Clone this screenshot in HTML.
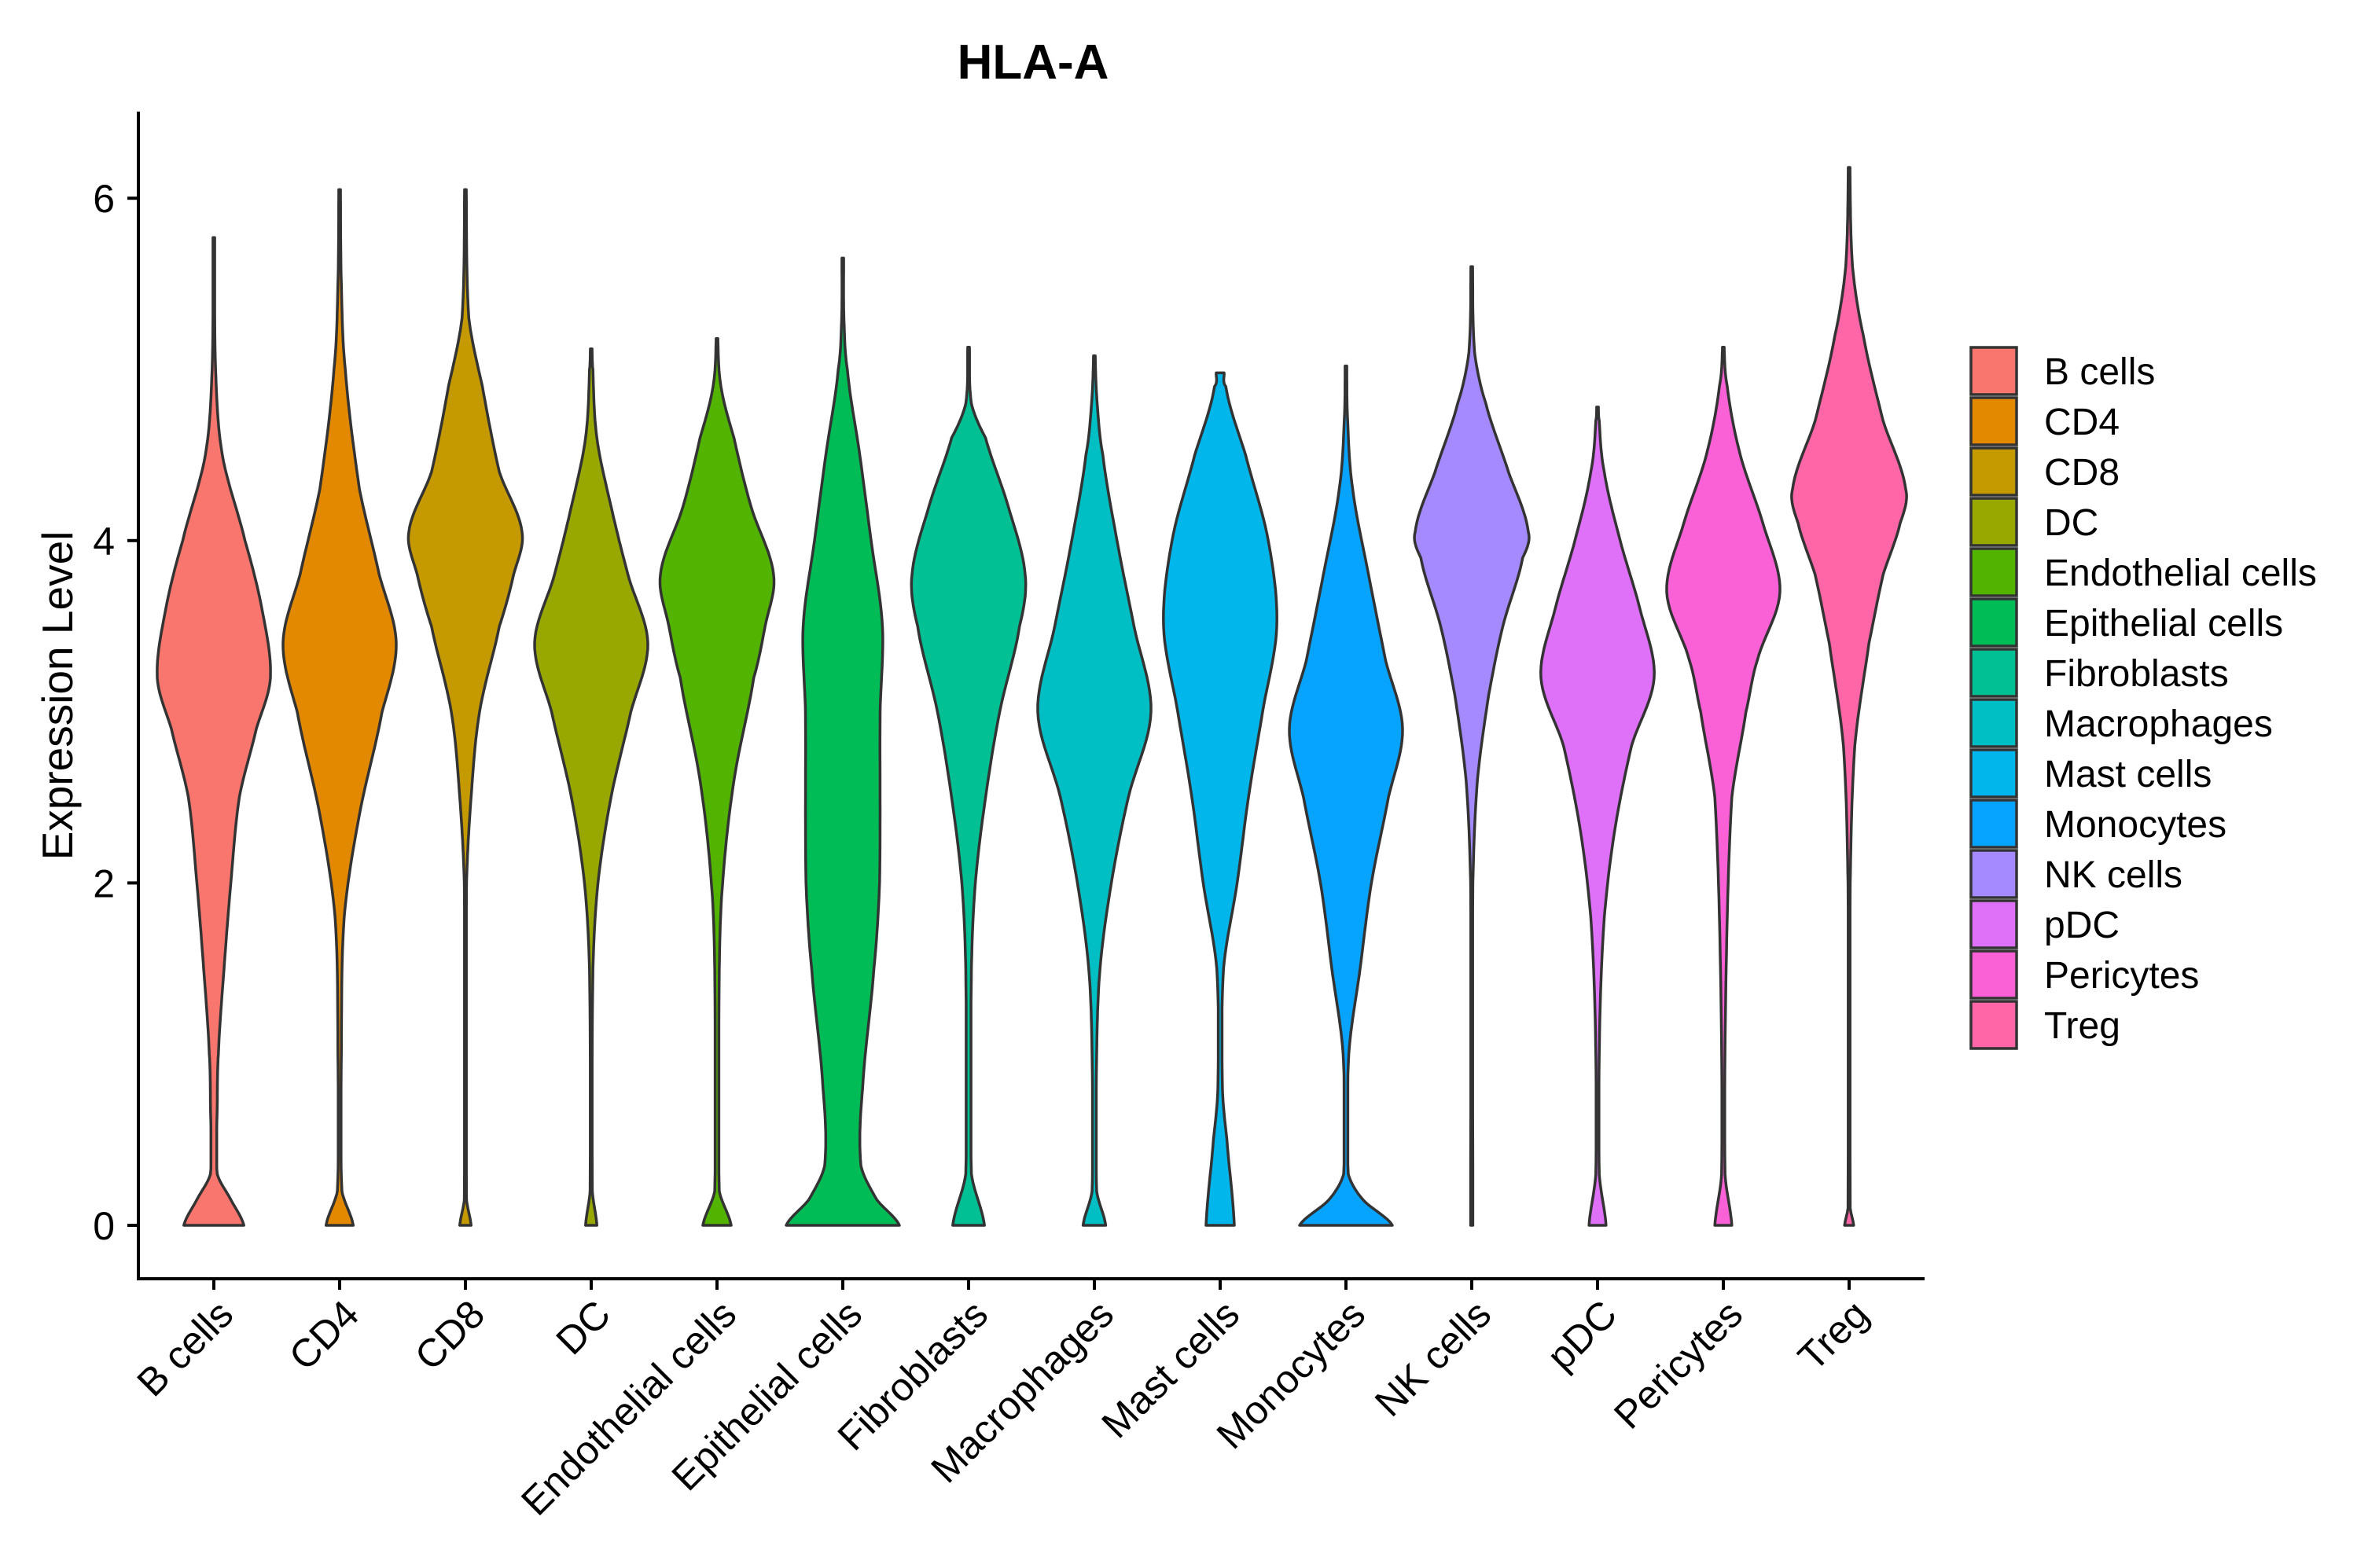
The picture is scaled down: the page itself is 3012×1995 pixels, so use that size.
<!DOCTYPE html>
<html><head><meta charset="utf-8"><style>
html,body{margin:0;padding:0;background:#fff;}
svg{display:block;font-family:"Liberation Sans",Arial,sans-serif;}
</style></head><body>
<svg id="chart" width="3012" height="1995" viewBox="0 0 3012 1995" xmlns="http://www.w3.org/2000/svg">
<rect x="0" y="0" width="3012" height="1995" fill="#fff"/>
<text x="1314" y="100" text-anchor="middle" font-size="62" font-weight="bold" fill="#000">HLA-A</text>
<text transform="translate(92,885) rotate(-90)" text-anchor="middle" font-size="55" fill="#000">Expression Level</text>
<g id="violins"></g>
<g id="axes"></g>
<g id="legend"></g>
</svg>
<script>
const categories = ["B cells","CD4","CD8","DC","Endothelial cells","Epithelial cells","Fibroblasts","Macrophages","Mast cells","Monocytes","NK cells","pDC","Pericytes","Treg"];
const colors = ["#F8766D","#E38900","#C49A00","#99A800","#53B400","#00BC56","#00C094","#00BFC4","#00B6EB","#06A4FF","#A58AFF","#DF70F8","#FB61D7","#FF66A8"];
const yTicks = [0,2,4,6];
// density profiles: [expression value, relative half-width]
const profBcells = [[0,0.53],[0.15,0.3],[0.3,0.06],[0.7,0.06],[1,0.08],[1.5,0.18],[2,0.3],[2.5,0.45],[2.9,0.75],[3.2,1.0],[3.6,0.85],[4,0.55],[4.5,0.15],[5,0.03],[5.77,0.015]];
const profCD4 = [[0,0.24],[0.2,0.04],[1,0.03],[1.8,0.08],[2.4,0.35],[3,0.75],[3.4,1.0],[3.8,0.7],[4.3,0.35],[5,0.1],[5.5,0.03],[6.05,0.015]];
const profCD8 = [[0,0.1],[0.15,0.02],[2,0.02],[2.5,0.1],[3,0.25],[3.5,0.6],[3.8,0.85],[4.05,1.0],[4.4,0.6],[4.9,0.3],[5.3,0.06],[6.05,0.015]];
const profDC = [[0,0.1],[0.2,0.02],[1.5,0.03],[2,0.12],[2.5,0.35],[3,0.7],[3.4,1.0],[3.8,0.65],[4.2,0.35],[4.6,0.1],[5,0.03],[5.12,0.015]];
const profEndo = [[0,0.25],[0.2,0.04],[1.5,0.04],[2,0.1],[2.6,0.3],[3.2,0.65],[3.5,0.85],[3.8,1.0],[4.2,0.6],[4.6,0.3],[4.9,0.07],[5.18,0.015]];
const profEpi = [[0,1.0],[0.15,0.6],[0.35,0.32],[0.8,0.35],[1.5,0.55],[2,0.65],[3,0.66],[3.5,0.7],[4,0.5],[4.5,0.3],[5,0.08],[5.3,0.02],[5.65,0.015]];
const profFib = [[0,0.28],[0.3,0.05],[1.5,0.05],[2,0.12],[2.5,0.3],[3,0.55],[3.5,0.9],[3.8,1.0],[4.2,0.7],[4.6,0.3],[4.8,0.05],[5.13,0.015]];
const profMac = [[0,0.2],[0.2,0.04],[1,0.04],[1.5,0.1],[2,0.3],[2.5,0.6],[3,1.0],[3.5,0.7],[4,0.4],[4.5,0.15],[4.8,0.05],[5.08,0.015]];
const profMast = [[0,0.25],[0.5,0.12],[0.8,0.04],[1.5,0.06],[2,0.3],[2.5,0.5],[3,0.75],[3.5,1.0],[4,0.85],[4.5,0.45],[4.9,0.1],[4.98,0.07]];
const profMono = [[0,0.82],[0.15,0.3],[0.3,0.04],[1,0.05],[1.5,0.25],[2,0.45],[2.5,0.75],[2.9,1.0],[3.3,0.7],[3.8,0.4],[4.3,0.12],[4.7,0.03],[5.02,0.015]];
const profNK = [[0,0.02],[2,0.02],[2.6,0.1],[3.1,0.3],[3.5,0.55],[3.9,0.9],[4.05,1.0],[4.4,0.65],[4.8,0.25],[5.1,0.05],[5.6,0.015]];
const profPDC = [[0,0.15],[0.3,0.03],[1.2,0.04],[1.8,0.12],[2.3,0.3],[2.8,0.6],[3.2,1.0],[3.6,0.75],[4,0.4],[4.4,0.12],[4.7,0.03],[4.78,0.015]];
const profPeri = [[0,0.15],[0.3,0.03],[1.5,0.05],[2.5,0.15],[3,0.4],[3.3,0.6],[3.7,1.0],[4.1,0.7],[4.5,0.3],[4.9,0.07],[5.13,0.015]];
const profTreg = [[0,0.08],[0.1,0.02],[2,0.02],[2.8,0.1],[3.4,0.35],[3.8,0.6],[4.1,0.9],[4.3,1.0],[4.7,0.6],[5.2,0.25],[5.6,0.06],[6.18,0.015]];
const profiles = [profBcells,profCD4,profCD8,profDC,profEndo,profEpi,profFib,profMac,profMast,profMono,profNK,profPDC,profPeri,profTreg];

const NS = "http://www.w3.org/2000/svg";
const X0 = 272, XSTEP = 160, HALF = 72;
function xScale(i){ return X0 + XSTEP*i; }
function yScale(v){ return 1559 - v*217.8; }

function sampleProfile(p){
  const out=[];
  for(let k=0;k<p.length-1;k++){
    const w0=p[Math.max(0,k-1)][1], w1=p[k][1], w2=p[k+1][1], w3=p[Math.min(p.length-1,k+2)][1];
    const lo=Math.min(w1,w2)*0.85, hi=Math.max(w1,w2)*1.08;
    for(let s=0;s<12;s++){
      const t=s/12, t2=t*t, t3=t2*t;
      let w=0.5*((2*w1)+(-w0+w2)*t+(2*w0-5*w1+4*w2-w3)*t2+(-w0+3*w1-3*w2+w3)*t3);
      w=Math.min(hi,Math.max(lo,w));
      const v=p[k][0]+t*(p[k+1][0]-p[k][0]);
      out.push([v, Math.max(0.012,w)]);
    }
  }
  out.push(p[p.length-1]);
  return out;
}

const gV=document.getElementById('violins');
profiles.forEach((p,i)=>{
  const pts=sampleProfile(p), cx=xScale(i);
  let d="";
  pts.forEach((q,j)=>{ d+=(j?"L":"M")+(cx+q[1]*HALF).toFixed(1)+","+yScale(q[0]).toFixed(1); });
  for(let j=pts.length-1;j>=0;j--){ d+="L"+(cx-pts[j][1]*HALF).toFixed(1)+","+yScale(pts[j][0]).toFixed(1); }
  d+="Z";
  const path=document.createElementNS(NS,'path');
  path.setAttribute('d',d);
  path.setAttribute('fill',colors[i]);
  path.setAttribute('stroke','#333333');
  path.setAttribute('stroke-width','3.5');
  path.setAttribute('stroke-linejoin','round');
  
  
  gV.appendChild(path);
});

const gA=document.getElementById('axes');
function mk(tag,attrs){ const e=document.createElementNS(NS,tag); for(const k in attrs) e.setAttribute(k,attrs[k]); return e; }
const yl=mk('line',{x1:176,y1:142,x2:176,y2:1629,stroke:'#000','stroke-width':4});


gA.appendChild(yl);
const xl=mk('line',{x1:174,y1:1627,x2:2448,y2:1627,stroke:'#000','stroke-width':4});


gA.appendChild(xl);
yTicks.forEach(v=>{
  const t=mk('line',{x1:162,y1:yScale(v),x2:176,y2:yScale(v),stroke:'#000','stroke-width':4});
  
  
  gA.appendChild(t);
  const l=mk('text',{x:146,y:yScale(v)+18,'text-anchor':'end','font-size':50,fill:'#000'});
  l.textContent=String(v);
  
  
  gA.appendChild(l);
});
categories.forEach((c,i)=>{
  const cx=xScale(i);
  const t=mk('line',{x1:cx,y1:1627,x2:cx,y2:1641,stroke:'#000','stroke-width':4});
  
  
  gA.appendChild(t);
  const l=mk('text',{transform:'translate('+(cx+2)+',1650) rotate(-45)','text-anchor':'end','font-size':50,dy:'0.72em',fill:'#000'});
  l.textContent=c;
  
  
  gA.appendChild(l);
});

const gL=document.getElementById('legend');
categories.forEach((c,i)=>{
  const y=440+64*i;
  const r=mk('rect',{x:2507,y:y+2,width:58,height:60,fill:colors[i],stroke:'#333333','stroke-width':3.5});
  
  
  gL.appendChild(r);
  const t=mk('text',{x:2600,y:y+49,'font-size':48,fill:'#000'});
  t.textContent=c;
  
  
  gL.appendChild(t);
});
</script>
</body></html>
